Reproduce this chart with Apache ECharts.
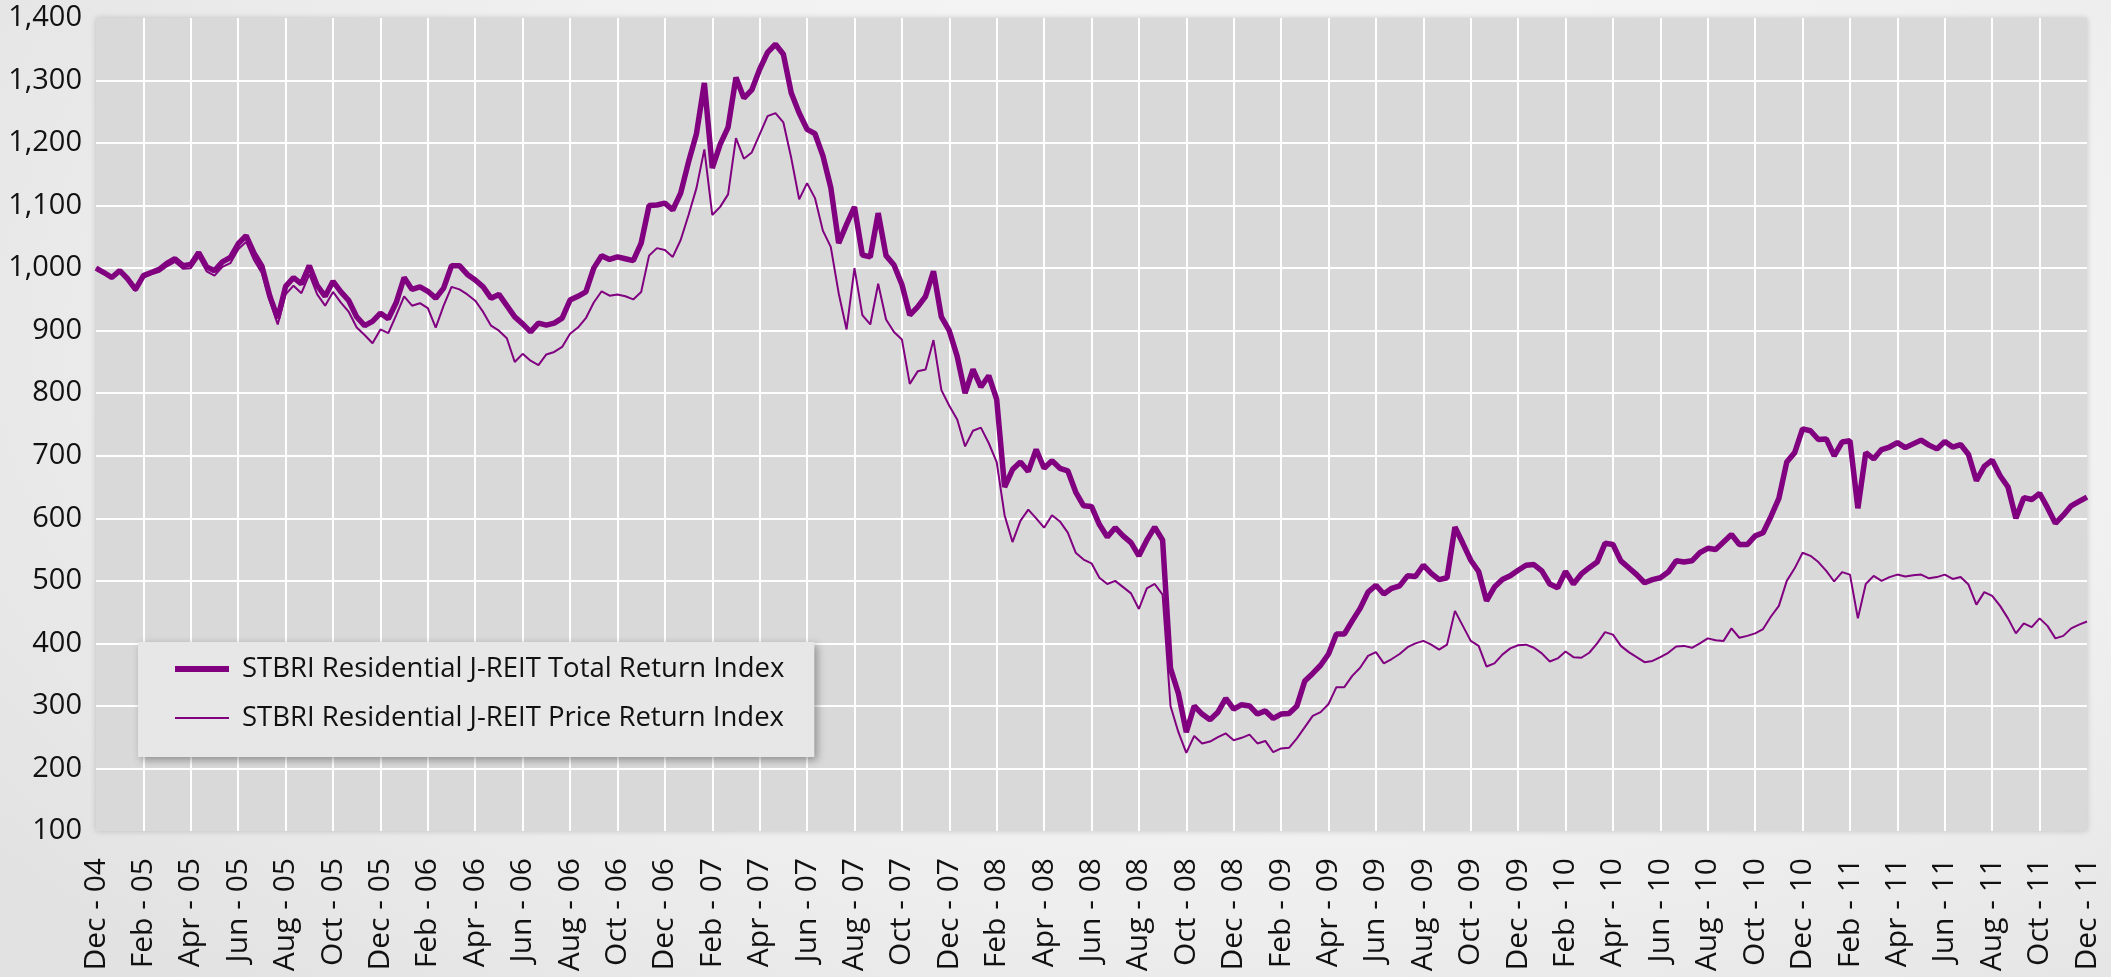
<!DOCTYPE html>
<html>
<head>
<meta charset="utf-8">
<title>STBRI Residential J-REIT Index</title>
<script src="https://cdn.jsdelivr.net/npm/echarts@6/dist/echarts.min.js"></script>
<style>
  html, body { margin: 0; padding: 0; }
  body {
    width: 2111px; height: 977px; overflow: hidden;
    background: radial-gradient(ellipse 75% 90% at 60% 35%, #fbfbfb 0%, #f1f1f1 55%, #e2e2e2 100%);
  }
  #chart { width: 2111px; height: 977px; }
</style>
</head>
<body>
<div id="chart"></div>
<script>
// Axis tick labels, one every two months from Dec 2004 to Dec 2011
const tickLabels = [
  'Dec - 04', 'Feb - 05', 'Apr - 05', 'Jun - 05', 'Aug - 05', 'Oct - 05',
  'Dec - 05', 'Feb - 06', 'Apr - 06', 'Jun - 06', 'Aug - 06', 'Oct - 06',
  'Dec - 06', 'Feb - 07', 'Apr - 07', 'Jun - 07', 'Aug - 07', 'Oct - 07',
  'Dec - 07', 'Feb - 08', 'Apr - 08', 'Jun - 08', 'Aug - 08', 'Oct - 08',
  'Dec - 08', 'Feb - 09', 'Apr - 09', 'Jun - 09', 'Aug - 09', 'Oct - 09',
  'Dec - 09', 'Feb - 10', 'Apr - 10', 'Jun - 10', 'Aug - 10', 'Oct - 10',
  'Dec - 10', 'Feb - 11', 'Apr - 11', 'Jun - 11', 'Aug - 11', 'Oct - 11',
  'Dec - 11'
];

// Series names
const seriesNames = [
  'STBRI Residential J-REIT Total Return Index',
  'STBRI Residential J-REIT Price Return Index'
];

// Samples per month (roughly every ten days), starting Dec 2004
const SAMPLES_PER_MONTH = 3;

// Total return index, three samples per month
const totalReturn = [
  1000, 993, 985,   996, 983, 966,   988, 993, 998,   1008, 1015, 1004,
  1006, 1025, 1002, 996, 1010, 1017, 1039, 1052, 1024, 1003, 955, 920,
  971, 985, 975,    1004, 972, 955,  979, 962, 948,   922, 908, 915,
  928, 919, 945,    985, 966, 970,   963, 952, 968,   1004, 1004, 990,
  981, 970, 952,    958, 940, 922,   911, 898, 912,   909, 912, 920,
  949, 955, 962,    1000, 1020, 1014, 1018, 1015, 1012, 1040, 1100, 1101,
  1104, 1093, 1120, 1170, 1215, 1296, 1160, 1198, 1225, 1305, 1272, 1285,
  1318, 1345, 1358, 1342, 1280, 1248, 1222, 1215, 1180, 1129, 1040, 1070,
  1098, 1021, 1018, 1088, 1020, 1005, 974, 925, 938,  955, 995, 922,
  900, 859, 800,    838, 810, 828,   790, 650, 678,   690, 675, 710,
  680, 692, 680,    676, 642, 620,   619, 590, 570,   585, 572, 561,
  540, 565, 586,    565, 360, 320,   258, 300, 287,   278, 290, 312,
  295, 302, 300,    287, 292, 280,   287, 288, 300,   340, 352, 365,
  383, 415, 415,    436, 456, 482,   493, 479, 488,   492, 508, 507,
  525, 512, 502,    505, 586, 560,   533, 515, 468,   490, 502, 508,
  517, 525, 526,    516, 495, 489,   515, 495, 511,   521, 530, 560,
  558, 532, 521,    510, 497, 502,   505, 514, 532,   530, 532, 545,
  552, 550, 562,    574, 558, 558,   572, 577, 603,   632, 690, 705,
  743, 740, 726,    727, 700, 722,   724, 616, 705,   695, 710, 714,
  721, 713, 719,    725, 717, 711,   723, 714, 718,   702, 660, 683,
  693, 668, 650,    600, 633, 630,   640, 617, 592,   605, 620, 627,
  634
];

// Price return index, three samples per month
const priceReturn = [
  1000, 992, 983,   994, 981, 963,   985, 990, 994,   1003, 1010, 999,
  1000, 1018, 995,  988, 1002, 1008, 1030, 1042, 1013, 992, 948, 910,
  958, 972, 960,    990, 958, 940,   962, 945, 930,   905, 893, 880,
  902, 896, 925,    955, 940, 944,   936, 905, 940,   970, 966, 958,
  948, 930, 908,    900, 888, 850,   863, 852, 845,   862, 866, 874,
  895, 905, 920,    945, 963, 956,   958, 955, 950,   962, 1020, 1032,
  1029, 1018, 1045, 1085, 1128, 1190, 1085, 1098, 1118, 1208, 1175, 1185,
  1214, 1243, 1248, 1233, 1176, 1110, 1136, 1112, 1060, 1034, 960, 902,
  1000, 925, 910,   975, 918, 898,   886, 815, 835,   838, 885, 805,
  780, 758, 715,    740, 745, 720,   690, 605, 562,   596, 614, 600,
  585, 605, 595,    577, 545, 534,   528, 505, 495,   500, 490, 480,
  455, 488, 495,    478, 300, 258,   225, 252, 240,   243, 250, 256,
  245, 249, 254,    240, 244, 226,   232, 233, 248,   266, 284, 290,
  303, 330, 330,    348, 361, 380,   386, 368, 375,   383, 394, 400,
  404, 398, 390,    398, 452, 428,   404, 396, 363,   368, 382, 392,
  397, 398, 393,    384, 371, 376,   387, 378, 377,   385, 400, 418,
  414, 396, 386,    378, 370, 372,   378, 385, 395,   396, 393, 400,
  408, 405, 404,    424, 409, 412,   416, 423, 443,   460, 500, 520,
  545, 540, 530,    516, 499, 514,   510, 440, 495,   508, 500, 506,
  510, 507, 509,    510, 504, 506,   510, 503, 506,   494, 462, 482,
  476, 460, 440,    416, 432, 426,   440, 428, 408,   412, 424, 430,
  435
];

// Pair each sample with its month offset from Dec 2004
const toPoints = arr => arr.map((v, i) => [i / SAMPLES_PER_MONTH, v]);

const PURPLE = '#800080';
const FONT = '"Open Sans", "Noto Sans", sans-serif';

const chart = echarts.init(document.getElementById('chart'), null, { renderer: 'canvas' });

chart.setOption({
  animation: false,
  grid: {
    left: 96, right: 24, top: 18, bottom: 146,
    show: true,
    backgroundColor: '#d9d9d9',
    borderWidth: 0,
    shadowColor: 'rgba(0,0,0,0.18)',
    shadowBlur: 6
  },
  legend: {
    data: [
      { name: seriesNames[0], icon: 'path://M0,0H54V6H0Z' },
      { name: seriesNames[1], icon: 'path://M0,0H54V2H0Z' }
    ],
    orient: 'vertical',
    left: 138,
    top: 642,
    padding: [12, 30, 24, 37],
    itemGap: 19,
    itemWidth: 54,
    itemHeight: 14,
    symbolKeepAspect: true,
    backgroundColor: '#e7e7e7',
    shadowColor: 'rgba(0,0,0,0.35)',
    shadowBlur: 8,
    shadowOffsetX: 3,
    shadowOffsetY: 3,
    itemStyle: { color: PURPLE, borderWidth: 0 },
    lineStyle: { width: 0 },
    textStyle: {
      fontFamily: FONT,
      fontSize: 27.5,
      lineHeight: 30,
      color: '#111',
      padding: [0, 0, 0, 8]
    },
    selectedMode: false
  },
  xAxis: {
    type: 'value',
    min: 0,
    max: (tickLabels.length - 1) * 2,
    interval: 2,
    axisLine: { show: false },
    axisTick: { show: false },
    splitLine: {
      show: true,
      showMinLine: false,
      showMaxLine: false,
      lineStyle: { color: '#ffffff', width: 2 }
    },
    axisLabel: {
      rotate: 90,
      margin: 27,
      fontFamily: FONT,
      fontSize: 30,
      color: '#111',
      formatter: v => tickLabels[Math.round(v / 2)] || ''
    }
  },
  yAxis: {
    type: 'value',
    min: 100,
    max: 1400,
    interval: 100,
    axisLine: { show: false },
    axisTick: { show: false },
    splitLine: {
      show: true,
      showMinLine: false,
      showMaxLine: false,
      lineStyle: { color: '#ffffff', width: 2 }
    },
    axisLabel: {
      margin: 14,
      fontFamily: FONT,
      fontSize: 29,
      color: '#111',
      formatter: v => v.toLocaleString('en-US')
    }
  },
  series: [
    {
      name: seriesNames[1],
      type: 'line',
      data: toPoints(priceReturn),
      showSymbol: false,
      symbol: 'none',
      lineStyle: { color: PURPLE, width: 2 },
      itemStyle: { color: PURPLE },
      z: 2
    },
    {
      name: seriesNames[0],
      type: 'line',
      data: toPoints(totalReturn),
      showSymbol: false,
      symbol: 'none',
      lineStyle: { color: PURPLE, width: 5.5 },
      itemStyle: { color: PURPLE },
      z: 3
    }
  ]
});
</script>
</body>
</html>
